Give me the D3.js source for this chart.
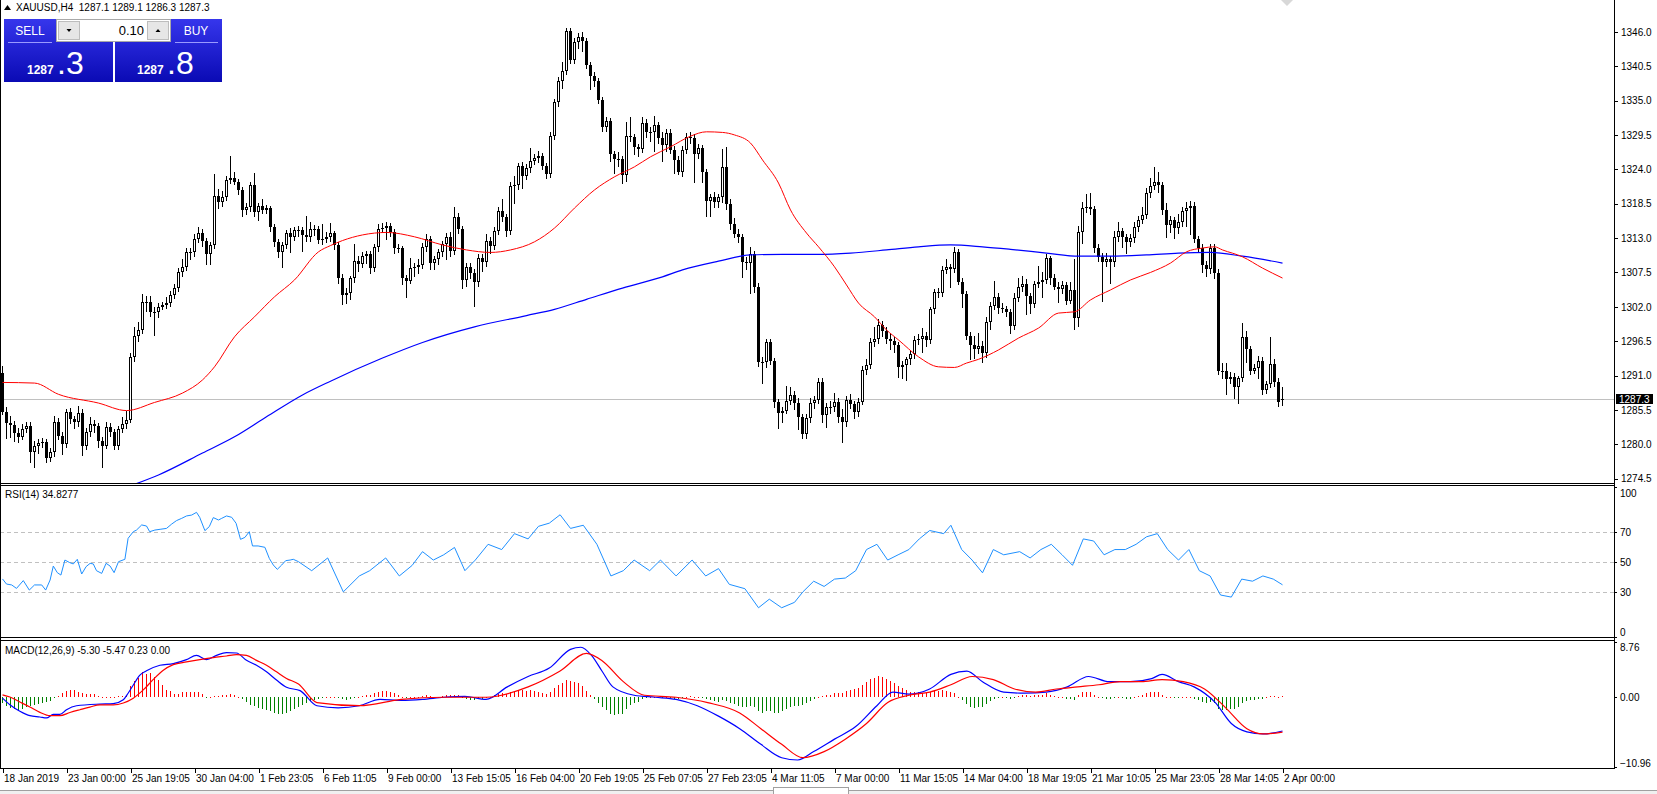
<!DOCTYPE html>
<html lang="en">
<head>
<meta charset="utf-8">
<title>XAUUSD,H4</title>
<script src="https://d3js.org/d3.v7.min.js"></script>
<style>
  body { margin:0; background:#fff; overflow:hidden }
  text { font-family:"Liberation Sans", Arial, sans-serif; font-size:10px }
  .axis path.domain { display:none }
  .axis line { stroke:#000; shape-rendering:crispEdges }
  .axis text { fill:#000 }
</style>
</head>
<body>
<script>

// ---- price bars (H4), bar 0 = 18 Jan 2019 ----
var opens = [
1291.4,1285.2,1283.4,1283.1,1281.8,1281.2,1282.5,1283.0,1278.8,1279.8,
1280.2,1280.4,1277.8,1278.8,1283.5,1281.4,1280.1,1285.1,1284.0,1283.5,
1285.0,1279.8,1281.9,1283.2,1283.0,1280.6,1279.8,1282.8,1281.9,1279.8,
1282.4,1283.3,1283.9,1293.9,1297.3,1298.3,1302.7,1302.8,1301.2,1301.2,
1302.0,1302.3,1302.6,1303.9,1305.0,1307.6,1308.4,1310.7,1310.7,1312.9,
1313.8,1312.6,1310.5,1311.9,1319.7,1318.8,1319.6,1322.3,1322.6,1322.0,
1320.7,1317.5,1317.9,1321.5,1317.2,1318.1,1317.5,1317.8,1314.7,1312.3,
1310.7,1311.9,1313.8,1313.2,1314.3,1314.3,1313.5,1313.1,1314.4,1314.4,
1312.7,1312.9,1313.2,1313.8,1311.9,1306.6,1303.9,1304.2,1306.6,1309.4,
1308.8,1310.2,1310.4,1308.2,1311.5,1314.4,1314.6,1314.9,1314.0,1311.4,
1311.4,1306.6,1306.2,1308.2,1308.3,1308.7,1311.5,1312.9,1309.0,1309.6,
1310.7,1312.0,1313.2,1310.9,1316.3,1314.4,1306.3,1308.3,1307.4,1305.9,
1309.8,1309.1,1312.6,1311.8,1314.1,1317.4,1316.3,1314.1,1321.4,1321.5,
1324.5,1323.0,1324.2,1325.4,1325.8,1326.2,1324.6,1323.2,1329.3,1334.7,
1338.1,1339.7,1346.1,1341.5,1344.3,1345.1,1344.6,1340.7,1338.9,1338.1,
1335.1,1330.7,1331.8,1326.4,1325.6,1325.6,1323.1,1329.3,1329.1,1327.5,
1327.2,1331.4,1330.0,1329.9,1331.1,1329.0,1327.9,1329.8,1327.1,1325.5,
1323.6,1327.1,1329.2,1329.0,1326.5,1327.4,1323.5,1319.0,1319.5,1318.8,
1319.5,1324.3,1318.5,1315.3,1313.7,1313.1,1309.2,1309.0,1310.5,1305.2,
1293.2,1293.1,1296.3,1293.4,1286.8,1285.0,1285.4,1287.0,1287.9,1286.6,
1284.4,1281.7,1284.2,1286.6,1287.1,1290.0,1284.7,1285.9,1285.9,1286.8,
1284.3,1283.5,1287.1,1286.5,1285.2,1286.8,1291.9,1292.7,1296.4,1296.8,
1299.1,1298.2,1296.8,1296.6,1295.9,1292.4,1292.7,1293.6,1294.4,1296.7,
1296.8,1297.3,1296.7,1301.6,1304.3,1304.2,1307.9,1308.3,1308.0,1310.7,
1306.0,1304.1,1297.3,1295.9,1295.2,1295.7,1294.6,1299.5,1302.1,1303.6,
1301.8,1301.6,1301.2,1298.9,1303.4,1305.2,1305.7,1303.7,1302.5,1305.7,
1305.9,1306.3,1309.8,1306.6,1305.2,1304.8,1305.5,1303.0,1304.7,1300.2,
1314.0,1317.8,1317.9,1317.6,1311.4,1310.0,1309.2,1309.6,1309.1,1313.2,
1314.1,1313.1,1312.3,1313.0,1314.8,1315.9,1316.7,1320.2,1321.3,1322.0,
1321.5,1317.5,1315.1,1315.9,1314.6,1315.6,1317.4,1317.8,1318.1,1312.9,
1311.4,1308.7,1308.0,1311.4,1307.4,1291.8,1291.8,1290.4,1290.8,1289.2,
1290.6,1297.1,1295.2,1291.8,1292.2,1293.4,1288.7,1289.7,1292.9,1289.9,
1287.1];

var highs = [
1292.6,1286.0,1284.6,1283.8,1282.6,1283.2,1283.6,1283.6,1280.6,1280.8,
1281.0,1280.9,1279.4,1284.6,1284.2,1282.0,1285.6,1285.8,1284.6,1286.2,
1285.6,1282.6,1284.3,1283.9,1283.4,1281.2,1283.6,1283.4,1282.4,1283.0,
1284.3,1285.4,1294.6,1298.8,1299.6,1304.0,1303.7,1303.8,1302.0,1302.6,
1302.8,1303.6,1304.6,1305.6,1308.2,1309.6,1311.4,1311.4,1313.6,1314.8,
1314.4,1313.0,1312.4,1323.3,1320.8,1320.6,1322.9,1326.1,1323.6,1322.5,
1321.2,1318.6,1322.0,1323.4,1318.6,1319.2,1318.3,1318.2,1315.2,1312.8,
1312.4,1314.3,1314.6,1314.8,1315.0,1314.8,1316.6,1315.6,1315.1,1315.0,
1315.2,1314.0,1315.4,1314.2,1312.4,1307.2,1305.0,1307.0,1312.0,1310.1,
1310.8,1311.0,1310.9,1312.0,1315.3,1315.4,1315.6,1315.4,1314.5,1312.0,
1311.8,1307.1,1309.8,1309.0,1309.6,1312.2,1313.6,1313.4,1310.2,1311.3,
1312.6,1313.8,1314.0,1318.0,1317.0,1315.0,1309.0,1309.0,1308.0,1310.4,
1310.4,1313.6,1313.2,1314.8,1318.0,1319.2,1316.8,1322.0,1323.0,1325.0,
1325.2,1324.8,1327.4,1326.4,1327.0,1326.6,1325.0,1330.0,1335.2,1338.8,
1341.2,1346.6,1346.6,1345.0,1345.8,1346.0,1345.0,1341.2,1339.6,1338.6,
1335.6,1332.4,1332.2,1327.0,1326.8,1326.2,1331.6,1332.4,1329.6,1328.0,
1332.4,1332.0,1330.8,1332.6,1331.6,1330.0,1330.5,1330.4,1327.8,1326.2,
1327.8,1329.8,1330.0,1329.6,1328.0,1327.9,1324.0,1320.0,1320.4,1320.0,
1327.2,1327.6,1319.2,1316.2,1314.4,1313.6,1310.0,1311.6,1311.0,1305.8,
1294.0,1296.8,1296.8,1293.8,1287.3,1286.0,1289.4,1289.2,1288.6,1287.4,
1284.9,1284.8,1287.4,1287.8,1290.6,1290.6,1286.6,1286.9,1288.2,1287.4,
1285.6,1287.8,1288.0,1287.0,1287.4,1292.6,1293.6,1297.0,1298.8,1300.0,
1299.8,1298.8,1297.8,1297.2,1296.4,1293.4,1294.0,1295.0,1297.4,1297.6,
1298.6,1298.0,1302.0,1304.8,1305.0,1308.6,1309.6,1308.8,1311.6,1311.2,
1306.6,1304.6,1297.9,1297.4,1297.8,1296.6,1300.4,1302.8,1306.2,1304.2,
1302.6,1302.2,1301.6,1304.2,1306.6,1307.0,1306.4,1304.2,1306.2,1308.6,
1307.6,1310.4,1310.2,1307.2,1306.0,1306.2,1306.0,1306.0,1309.6,1315.0,
1318.8,1320.0,1320.2,1318.2,1312.0,1310.6,1310.6,1310.2,1314.2,1315.6,
1314.6,1313.6,1313.6,1315.6,1316.6,1318.0,1321.0,1322.6,1324.4,1323.6,
1322.0,1318.6,1316.6,1316.4,1316.8,1318.0,1318.8,1318.9,1318.8,1313.4,
1312.0,1309.4,1312.0,1312.0,1308.0,1293.0,1293.0,1291.6,1291.4,1291.0,
1299.4,1298.2,1295.8,1292.8,1294.2,1294.0,1290.2,1297.2,1293.6,1290.6,
1289.1];

var lows = [
1284.8,1281.0,1281.2,1280.5,1280.3,1280.8,1281.9,1277.2,1276.4,1278.6,
1279.6,1277.2,1277.3,1278.2,1280.9,1278.5,1279.6,1283.4,1282.6,1283.0,
1278.3,1279.2,1281.4,1282.0,1279.6,1276.4,1279.4,1281.3,1279.3,1279.3,
1281.9,1282.6,1283.5,1293.4,1296.6,1297.8,1301.4,1300.6,1297.5,1300.4,
1301.6,1301.8,1302.1,1303.4,1304.6,1307.0,1307.9,1309.6,1310.2,1312.4,
1311.8,1308.8,1308.9,1311.4,1317.8,1318.2,1319.1,1321.8,1321.6,1320.1,
1316.5,1316.9,1317.4,1316.6,1315.9,1317.0,1317.0,1314.2,1311.8,1309.9,
1308.3,1311.4,1310.7,1312.7,1313.4,1311.0,1312.6,1312.6,1313.5,1312.2,
1312.1,1312.3,1312.6,1311.2,1305.8,1302.4,1302.6,1303.2,1306.0,1307.8,
1308.3,1309.0,1307.4,1307.8,1311.0,1313.9,1312.8,1313.4,1310.6,1310.7,
1305.7,1303.5,1305.8,1306.9,1307.4,1308.2,1310.9,1308.1,1308.1,1308.9,
1310.2,1309.7,1310.2,1310.4,1313.8,1305.0,1305.4,1306.6,1302.1,1305.4,
1307.8,1308.6,1310.6,1311.3,1313.6,1315.8,1313.4,1313.6,1318.6,1320.8,
1321.0,1322.4,1323.6,1324.8,1325.2,1324.0,1322.6,1322.8,1328.8,1334.2,
1337.0,1339.2,1341.0,1341.0,1343.4,1343.0,1340.2,1336.8,1337.4,1334.6,
1330.2,1330.2,1325.4,1323.4,1324.6,1321.8,1322.2,1328.6,1326.4,1326.2,
1326.8,1329.2,1328.6,1327.0,1328.2,1325.4,1327.0,1326.6,1323.4,1323.2,
1323.0,1326.6,1328.2,1322.0,1325.8,1322.0,1316.6,1316.6,1317.9,1318.0,
1318.8,1317.6,1314.4,1313.2,1312.4,1306.8,1308.0,1304.2,1304.4,1292.6,
1289.8,1292.4,1292.8,1286.0,1282.6,1283.6,1285.0,1286.4,1285.6,1282.4,
1281.0,1281.0,1283.6,1285.8,1286.6,1283.6,1282.8,1285.0,1285.4,1283.6,
1280.4,1282.9,1285.8,1284.2,1284.6,1286.4,1291.2,1292.2,1295.8,1296.2,
1297.4,1296.2,1295.2,1294.8,1290.8,1290.6,1290.3,1292.8,1293.8,1296.0,
1294.8,1295.8,1296.2,1301.0,1303.6,1303.8,1307.4,1305.2,1307.6,1305.6,
1302.0,1296.8,1293.6,1293.8,1294.6,1293.2,1294.0,1298.4,1301.6,1301.0,
1301.2,1300.6,1297.8,1298.4,1302.9,1304.6,1300.8,1301.0,1302.0,1305.2,
1303.6,1305.8,1305.6,1304.8,1302.8,1304.2,1302.4,1302.6,1298.4,1299.0,
1312.2,1317.2,1316.8,1310.8,1309.4,1303.0,1308.6,1305.8,1308.6,1312.6,
1311.6,1310.6,1311.8,1312.4,1314.2,1315.4,1316.2,1319.6,1320.8,1320.4,
1316.8,1313.2,1314.0,1313.0,1313.8,1315.0,1315.0,1313.6,1312.4,1310.8,
1307.6,1307.0,1307.4,1306.6,1291.2,1290.6,1288.0,1289.8,1287.4,1286.6,
1290.2,1293.2,1291.2,1291.4,1290.6,1288.0,1288.2,1289.2,1289.4,1286.2,
1286.3];

var closes = [
1285.2,1283.4,1283.1,1281.8,1281.2,1282.5,1283.0,1278.8,1279.8,1280.2,
1280.4,1277.8,1278.8,1283.5,1281.4,1280.1,1285.1,1284.0,1283.5,1285.0,
1279.8,1281.9,1283.2,1283.0,1280.6,1279.8,1282.8,1281.9,1279.8,1282.4,
1283.3,1283.9,1293.9,1297.3,1298.3,1302.7,1302.8,1301.2,1301.2,1302.0,
1302.3,1302.6,1303.9,1305.0,1307.6,1308.4,1310.7,1310.7,1312.9,1313.8,
1312.6,1310.5,1311.9,1319.7,1318.8,1319.6,1322.3,1322.6,1322.0,1320.7,
1317.5,1317.9,1321.5,1317.2,1318.1,1317.5,1317.8,1314.7,1312.3,1310.7,
1311.9,1313.8,1313.2,1314.3,1314.3,1313.5,1313.1,1314.4,1314.4,1312.7,
1312.9,1313.2,1313.8,1311.9,1306.6,1303.9,1304.2,1306.6,1309.4,1308.8,
1310.2,1310.4,1308.2,1311.5,1314.4,1314.6,1314.9,1314.0,1311.4,1311.4,
1306.6,1306.2,1308.2,1308.3,1308.7,1311.5,1312.9,1309.0,1309.6,1310.7,
1312.0,1313.2,1310.9,1316.3,1314.4,1306.3,1308.3,1307.4,1305.9,1309.8,
1309.1,1312.6,1311.8,1314.1,1317.4,1316.3,1314.1,1321.4,1321.5,1324.5,
1323.0,1324.2,1325.4,1325.8,1326.2,1324.6,1323.2,1329.3,1334.7,1338.1,
1339.7,1346.1,1341.5,1344.3,1345.1,1344.6,1340.7,1338.9,1338.1,1335.1,
1330.7,1331.8,1326.4,1325.6,1325.6,1323.1,1329.3,1329.1,1327.5,1327.2,
1331.4,1330.0,1329.9,1331.1,1329.0,1327.9,1329.8,1327.1,1325.5,1323.6,
1327.1,1329.2,1329.0,1326.5,1327.4,1323.5,1319.0,1319.5,1318.8,1319.5,
1324.3,1318.5,1315.3,1313.7,1313.1,1309.2,1309.0,1310.5,1305.2,1293.2,
1293.1,1296.3,1293.4,1286.8,1285.0,1285.4,1287.0,1287.9,1286.6,1284.4,
1281.7,1284.2,1286.6,1287.1,1290.0,1284.7,1285.9,1285.9,1286.8,1284.3,
1283.5,1287.1,1286.5,1285.2,1286.8,1291.9,1292.7,1296.4,1296.8,1299.1,
1298.2,1296.8,1296.6,1295.9,1292.4,1292.7,1293.6,1294.4,1296.7,1296.8,
1297.3,1296.7,1301.6,1304.3,1304.2,1307.9,1308.3,1308.0,1310.7,1306.0,
1304.1,1297.3,1295.9,1295.2,1295.7,1294.6,1299.5,1302.1,1303.6,1301.8,
1301.6,1301.2,1298.9,1303.4,1305.2,1305.7,1303.7,1302.5,1305.7,1305.9,
1306.3,1309.8,1306.6,1305.2,1304.8,1305.5,1303.0,1304.7,1300.2,1314.0,
1317.8,1317.9,1317.6,1311.4,1310.0,1309.2,1309.6,1309.1,1313.2,1314.1,
1313.1,1312.3,1313.0,1314.8,1315.9,1316.7,1320.2,1321.3,1322.0,1321.5,
1317.5,1315.1,1315.9,1314.6,1315.6,1317.4,1317.8,1318.1,1312.9,1311.4,
1308.7,1308.0,1311.4,1307.4,1291.8,1291.8,1290.4,1290.8,1289.2,1290.6,
1297.1,1295.2,1291.8,1292.2,1293.4,1288.7,1289.7,1292.9,1289.9,1286.8,
1287.3];

// moving averages at bar positions
var redMaBar = [0,8,14,24,31,38,45,50,53,58,63,68,73,79,82,85,90,96,103,110,116,122,127,133,138,143,148,153,158,162,167,172,176,180,183,187,190,194,197,201,204,208,211,214,218,221,224,229,234,238,241,244,249,254,259,264,268,272,277,282,287,292,296,300,303,305,310,315,320];
var redMaVal = [1289.9,1289.8,1288.0,1286.6,1285.4,1286.7,1288.2,1290.3,1292.4,1297.2,1300.4,1303.6,1306.3,1310.8,1311.8,1312.6,1313.5,1313.9,1313.2,1311.9,1311.1,1310.7,1311.1,1312.4,1314.6,1317.8,1320.7,1322.8,1324.4,1326.0,1327.6,1329.3,1330.0,1329.9,1329.5,1328.2,1325.5,1321.8,1317.5,1313.8,1311.6,1308.4,1305.5,1302.6,1300.4,1298.3,1296.7,1294.0,1292.4,1292.3,1293.0,1293.6,1295.1,1297.0,1298.6,1301.0,1301.2,1303.1,1304.7,1306.3,1307.5,1309.0,1310.8,1311.4,1311.6,1311.1,1310.0,1308.2,1306.6];
var blueMaBar = [33,39,50,58,66,75,82,95,105,118,131,138,146,155,165,170,179,187,195,204,212,221,229,237,245,252,261,269,277,286,294,302,310,320];
var blueMaVal = [1273.6,1275.1,1278.6,1281.2,1284.4,1287.9,1290.1,1293.8,1296.3,1298.8,1300.6,1301.6,1303.2,1305.0,1306.8,1307.9,1309.3,1310.3,1310.4,1310.4,1310.6,1311.1,1311.6,1311.9,1311.6,1311.2,1310.6,1310.1,1310.1,1310.3,1310.6,1310.7,1310.1,1309.0];

// RSI(14)
var rsiBar = [0,1,2.3,3.5,5.2,6.7,8,9.8,10.8,11.9,12.7,13.7,14.6,15.6,16.8,17.7,18.7,19.8,20.9,21.9,22.7,23.5,24.8,25.9,26.9,27.9,29,30.6,31.4,32.7,33.5,34.8,36,36.8,38.1,39.4,41,42.3,43.5,44.8,46,47.3,48.5,49.3,50.6,51.7,52.7,54,54.8,56,57.3,58.4,59.5,60.6,61.7,62.5,63.9,65.6,66.7,67.7,68.7,69.8,70.8,71.9,72.7,74,
  77.3,81.3,85.2,89.2,91.8,95.8,99.2,102.4,105,107.7,110.3,113,115.6,118.2,121.4,124.8,128,131.4,134,136.7,139.4,142,145.2,148.6,152.1,155.2,157.9,161.8,164.5,168.4,172.4,175.8,179,181.7,185.6,189,191.7,194.8,198,200.1,202.8,205.4,208,210.7,213.3,216,218.6,221.3,223.9,226.6,229.2,231.8,235.3,237.1,239.8,242.4,245,247.7,250.3,254.3,256.9,259.6,262.2,264.9,267.5,270.2,272.8,275.4,278.1,280.7,283.4,286,288.7,291.3,294,296.6,299.2,301.9,304.5,307.2,309.8,312.5,315.1,317.7,320];
var rsiVal = [38.7,35.3,34.7,32.4,37.6,31.3,34.7,34.7,31.3,38,47.3,42.9,41.3,51.3,49.6,48.7,51.8,42,46.9,49.1,48.7,44.2,42.4,49.1,47.3,42.9,50.2,51.8,65.8,70.2,71.3,74.7,74,70.2,71.3,71.8,72.4,75.3,77.6,79.1,80.7,81.3,83.1,79.8,70.9,73.6,79.6,78,79.1,80.7,79.8,75.8,65.1,66.4,70.2,60.7,60.7,59.8,52.4,48,45.1,48,50.9,51.3,51.8,50.2,
  44.2,52.7,30.1,40.7,44.2,52.7,40.7,47.7,56.9,51.3,54.8,59.7,44.2,51.3,61.8,58.3,68.9,65.4,73.8,75.9,81.5,72.4,74.5,61.8,40.7,44.2,51.3,44.2,51.3,40.7,51.3,40.7,45.6,35.1,32.2,19.5,25.2,19.5,23.1,30.1,37.2,33.7,38.6,39.3,44.2,58.3,61.8,51.3,54.8,58.3,65.4,71,68.9,74.5,58.3,51.3,42.8,58.3,54.8,56.9,52.7,58.3,61.8,54.8,47.8,65.4,64,54.8,58.3,58.3,61.8,66.8,68.9,58.3,51.3,58.3,44.2,40.7,28,26.6,38.6,37.2,40.7,38.6,34.8];
var rsiLevels = [70, 50, 30];
var rsiTicks = [100, 70, 50, 30, 0];

// MACD(12,26,9)
var macdBar = [0,1.85,4.35,6.85,9.35,11,12.7,14.35,16,18.5,24.35,27.7,30.2,31.4,32.7,34.35,36,39.35,42.7,46,48.5,51,53.5,56,58.5,61,63.5,66,68.5,71,74.4,
  78.6,83.9,89.2,94.4,99.7,105,110.3,115.6,120.9,126.2,131.4,136.7,142,144.6,147.3,149.9,152.6,157.9,163.2,168.4,173.7,179,184.3,189.6,194.8,198.8,202.8,208,213.3,218.6,222.6,226.6,231.8,237.1,241.1,245,250.3,255.6,260.9,266.2,271.5,276.7,282,287.3,289.9,294,297.9,303.2,307.2,311.1,315.1,320];
var macdVal = [-0.14,-1.18,-2.2,-2.9,-3.1,-3.25,-2.7,-2.7,-1.96,-1.34,-1.07,-1.0,-0.4,0.63,1.93,3.48,4.15,5.03,5.29,5.91,6.58,5.91,6.58,7.0,6.95,5.8,5.03,4.0,2.7,1.56,1.04,
  -1.33,-1.66,-1.33,-0.34,-0.5,-0.34,0,0.15,-0.34,1.63,3.26,4.58,7.53,7.86,6.55,4.09,1.63,0.31,0,-0.34,-1.33,-2.97,-4.94,-7.4,-9.5,-9.86,-8.54,-6.58,-4.61,-1.33,0.81,0.48,1.3,3.6,4.09,2.45,0.81,0.64,0.81,1.63,3.26,2.45,2.45,2.93,3.6,2.45,1.63,-0.84,-4.12,-5.43,-5.76,-5.3];
var signalBar = [0,1.85,4.35,6.85,9.35,11.85,14.35,16.85,19.35,21.85,24.35,27.7,30.2,32.7,35.2,37.7,40.2,42.7,46,49.35,52.7,56,58.5,61,63.5,66,68.5,71,74,
  78.6,89.2,99.7,110.3,120.9,131.4,139.3,146,149.9,155.2,160.5,168.4,176.3,184.3,189.6,194.8,200.1,205.4,210.7,216,221.3,226.6,231.8,237.1,242.4,247.7,253,258.3,263.5,268.8,274.1,279.4,284.7,289.9,295.2,300.5,305.8,311.1,315.1,320];
var signalVal = [0.37,0.03,-0.75,-1.54,-2.37,-2.9,-2.9,-2.4,-1.96,-1.54,-1.2,-1.2,-0.9,-0.14,1.15,2.8,4.25,5.13,5.55,5.91,6.23,6.48,6.69,6.58,5.8,5.03,4.0,2.96,2.08,
  -0.84,-1.33,-0.34,0,0,1.63,4.09,6.88,5.73,2.45,0.31,0,-0.84,-2.47,-4.94,-7.4,-9.5,-8.54,-6.58,-4.12,-0.84,0.31,0.81,1.96,3.26,2.78,1.3,0.81,1.3,1.63,1.96,2.45,2.45,2.78,2.45,1.3,-1.66,-4.94,-5.76,-5.47];
var histVal = [
-0.98,-1.40,-1.66,-1.92,-2.07,-1.81,-1.50,-1.40,-1.19,-1.04,
-0.88,-0.78,-0.62,-0.10,0.16,0.67,0.93,1.09,1.19,0.78,
0.67,0.57,0.57,0.47,0.26,0.05,0.05,0.05,0.05,0.16,
0.26,0.41,1.71,2.48,3.00,4.04,3.67,3.78,3.26,2.74,
1.97,1.19,0.93,0.57,0.57,0.78,0.78,0.78,0.78,0.78,
0.57,-0.05,0.02,0.26,0.26,0.41,0.41,0.52,0.36,0.02,
-0.26,-0.78,-1.14,-1.40,-1.66,-1.92,-2.02,-2.17,-2.43,-2.69,
-2.69,-2.43,-2.17,-1.92,-1.50,
-1.2,-0.9,-0.6,-0.4,-0.2,-0.1,0.05,0.1,0.05,-0.1,
-0.3,-0.4,-0.3,-0.1,0.1,0.2,0.3,0.4,0.6,0.8,
1.0,1.0,0.8,0.6,0.4,0.1,-0.1,0.0,0.1,0.1,
0.2,0.3,0.2,0.1,0.1,0.2,0.3,0.3,0.4,0.3,
-0.1,-0.3,-0.4,-0.5,-0.3,-0.2,0.0,0.1,0.3,0.5,
0.6,0.5,0.8,1.0,1.2,1.1,1.0,1.1,1.0,0.9,
0.7,0.5,0.9,1.5,2.0,2.3,2.7,2.5,2.4,2.2,
1.8,1.0,0.3,-0.3,-0.9,-1.6,-2.0,-2.6,-2.8,-2.7,
-2.6,-1.8,-1.2,-0.9,-0.7,-0.3,-0.1,0.0,0.1,0.0,
-0.1,0.0,-0.1,-0.2,-0.3,-0.1,0.1,0.2,0.1,0.1,
-0.1,-0.3,-0.5,-0.6,-0.7,-0.4,-0.6,-0.9,-1.1,-1.3,
-1.5,-1.6,-1.4,-1.6,-2.2,-2.4,-2.2,-2.2,-2.4,-2.4,
-2.2,-1.9,-1.6,-1.4,-1.3,-1.2,-0.9,-0.6,-0.3,0.1,
0.2,0.3,0.4,0.6,0.6,0.7,1.0,1.2,1.3,1.5,
2.0,2.4,2.8,3.1,3.3,3.2,2.9,2.6,2.3,1.8,
1.4,1.1,0.9,0.9,0.8,0.7,0.6,0.8,1.0,1.0,
1.1,1.0,0.8,0.7,0.1,-0.4,-1.1,-1.5,-1.7,-1.6,
-1.6,-1.1,-0.6,-0.2,-0.1,0.0,-0.1,-0.3,-0.1,0.2,
0.4,0.3,0.2,0.3,0.4,0.4,0.6,0.4,0.2,0.0,
0.0,-0.2,-0.2,-0.5,0.3,0.8,0.9,0.9,0.4,0.1,
-0.1,-0.2,-0.3,-0.1,0.0,-0.1,-0.2,-0.2,0.0,0.2,
0.3,0.6,0.8,0.9,0.8,0.4,0.1,0.0,-0.1,-0.1,
0.0,0.1,0.1,-0.3,-0.5,-0.8,-0.9,-0.7,-0.9,-1.8,
-2.0,-2.0,-1.9,-1.8,-1.6,-0.9,-0.6,-0.5,-0.4,-0.2,
-0.2,0.0,0.2,0.2,0.1,0.23];
var macdTicks = [8.76, 0, -10.96];

// axes
var priceTicks = [1346.0,1340.5,1335.0,1329.5,1324.0,1318.5,1313.0,1307.5,1302.0,1296.5,1291.0,1285.5,1280.0,1274.5];
var lastPrice = 1287.3;
var timeTickBars = [0,16,32,48,64,80,96,112,128,144,160,176,192,208,224,240,256,272,288,304,320];
var timeLabels = ["18 Jan 2019","23 Jan 00:00","25 Jan 19:05","30 Jan 04:00","1 Feb 23:05","6 Feb 11:05","9 Feb 00:00","13 Feb 15:05","16 Feb 04:00","20 Feb 19:05","25 Feb 07:05","27 Feb 23:05","4 Mar 11:05","7 Mar 00:00","11 Mar 15:05","14 Mar 04:00","18 Mar 19:05","21 Mar 10:05","25 Mar 23:05","28 Mar 14:05","2 Apr 00:00"];


var w = 1657, h = 794, axisX = 1614;
var svg = d3.select("body").append("svg").attr("width", w).attr("height", h);
var defs = svg.append("defs");

function clip(id, y0, y1) {
    defs.append("clipPath").attr("id", id).append("rect")
        .attr("x", 1).attr("y", y0).attr("width", axisX - 1).attr("height", y1 - y0);
}
clip("cMain", 0, 483);
clip("cRsi", 486, 637);
clip("cMacd", 641, 768);

var x = d3.scaleLinear().domain([0, 320]).range([2.5, 1282.5]);
var yP = d3.scaleLinear().domain([1274.5, 1346.0]).range([478.7, 31.8]);
var yR = d3.scaleLinear().domain([0, 100]).range([637, 487]);
var yM = d3.scaleLinear().domain([-10.96, 8.76]).range([767, 641.5]);

// frame
var frame = svg.append("g").attr("stroke", "#000").attr("shape-rendering", "crispEdges");
[483.5, 485.5, 637.5, 640.5, 768.5].forEach(function(yy) {
    frame.append("line").attr("x1", 0).attr("x2", axisX).attr("y1", yy).attr("y2", yy)
})
frame.append("line").attr("x1", 0.5).attr("x2", 0.5).attr("y1", 0).attr("y2", 769)
frame.append("line").attr("x1", axisX + 0.5).attr("x2", axisX + 0.5).attr("y1", 0).attr("y2", 769)

// bottom tab strip
svg.append("rect").attr("x", 0).attr("y", 790).attr("width", w).attr("height", 4).attr("fill", "#f0f0f0")
svg.append("line").attr("x1", 0).attr("x2", 773).attr("y1", 790.5).attr("y2", 790.5).attr("stroke", "#a0a0a0")
svg.append("line").attr("x1", 848).attr("x2", w).attr("y1", 790.5).attr("y2", 790.5).attr("stroke", "#a0a0a0")
svg.append("rect").attr("x", 773.5).attr("y", 787.5).attr("width", 75).attr("height", 8).attr("fill", "#fff").attr("stroke", "#a0a0a0")

// main panel
var main = svg.append("g").attr("clip-path", "url(#cMain)");
main.append("line").attr("x1", 0).attr("x2", axisX)
    .attr("y1", Math.round(yP(lastPrice)) + 0.5).attr("y2", Math.round(yP(lastPrice)) + 0.5)
    .attr("stroke", "#c0c0c0").attr("shape-rendering", "crispEdges")

var bars = closes.map(function(c, i) {
    return { i: i, o: opens[i], h: highs[i], l: lows[i], c: c }
});

var cg = main.append("g").attr("shape-rendering", "crispEdges");
cg.selectAll("line.wick").data(bars).join("line").attr("class", "wick")
    .attr("x1", function(d) { return x(d.i) }).attr("x2", function(d) { return x(d.i) })
    .attr("y1", function(d) { return Math.round(yP(d.h)) })
    .attr("y2", function(d) { return Math.round(yP(d.l)) + 1 })
    .attr("stroke", "#000")

cg.selectAll("rect.body").data(bars).join("rect").attr("class", "body")
    .each(function(d) {
        var top = Math.round(yP(Math.max(d.o, d.c)));
        var bot = Math.round(yP(Math.min(d.o, d.c)));
        var el = d3.select(this);
        if (bot - top < 2) {
            el.attr("x", x(d.i) - 1.5).attr("y", top).attr("width", 3).attr("height", Math.max(1, bot - top)).attr("fill", "#000")
        } else if (d.c >= d.o) {
            el.attr("x", x(d.i) - 1).attr("y", top + 0.5).attr("width", 2).attr("height", bot - top - 1)
              .attr("fill", "#fff").attr("stroke", "#000")
        } else {
            el.attr("x", x(d.i) - 1.5).attr("y", top).attr("width", 3).attr("height", bot - top).attr("fill", "#000")
        }
    })

var maLine = d3.line().x(function(d) { return x(d[0]) }).y(function(d) { return yP(d[1]) }).curve(d3.curveMonotoneX);
main.append("path").datum(d3.zip(blueMaBar, blueMaVal)).attr("d", maLine)
    .attr("fill", "none").attr("stroke", "#0000ff").attr("stroke-width", 1.2)
main.append("path").datum(d3.zip(redMaBar, redMaVal)).attr("d", maLine)
    .attr("fill", "none").attr("stroke", "#ff0000").attr("stroke-width", 1)

// price axis
var pAxis = svg.append("g").attr("class", "axis").attr("transform", "translate(" + axisX + ",0)")
    .call(d3.axisRight(yP).tickValues(priceTicks).tickSize(4).tickPadding(3).tickFormat(d3.format(".1f")))
var ly = Math.round(yP(lastPrice));
svg.append("rect").attr("x", axisX + 2).attr("y", ly - 5).attr("width", 37).attr("height", 10).attr("fill", "#000")
svg.append("text").attr("x", axisX + 5).attr("y", ly).attr("dy", "0.35em").attr("fill", "#fff").text(d3.format(".1f")(lastPrice))

// RSI panel
var rsi = svg.append("g").attr("clip-path", "url(#cRsi)");
rsi.selectAll("line.lvl").data(rsiLevels).join("line").attr("class", "lvl")
    .attr("x1", 0).attr("x2", axisX)
    .attr("y1", function(d) { return Math.round(yR(d)) + 0.5 }).attr("y2", function(d) { return Math.round(yR(d)) + 0.5 })
    .attr("stroke", "#c0c0c0").attr("stroke-dasharray", "4,3").attr("shape-rendering", "crispEdges")
rsi.append("path").datum(d3.zip(rsiBar, rsiVal))
    .attr("d", d3.line().x(function(d) { return x(d[0]) }).y(function(d) { return yR(d[1]) }))
    .attr("fill", "none").attr("stroke", "#1e90ff").attr("stroke-width", 1)
var rAxis = svg.append("g").attr("class", "axis").attr("transform", "translate(" + axisX + ",0)")
    .call(d3.axisRight(yR).tickValues(rsiTicks).tickSize(3).tickPadding(3))
rAxis.selectAll("text").attr("dy", function(d) { return d == 100 ? "0.9em" : d == 0 ? "-0.2em" : "0.32em" })
svg.append("text").attr("x", 5).attr("y", 498).text("RSI(14) 34.8277")

// MACD panel
var macd = svg.append("g").attr("clip-path", "url(#cMacd)");
var y0 = Math.round(yM(0));
macd.selectAll("line.hist").data(histVal).join("line").attr("class", "hist")
    .attr("x1", function(d, i) { return x(i) }).attr("x2", function(d, i) { return x(i) })
    .attr("y1", y0)
    .attr("y2", function(d) {
        var yy = Math.round(yM(d));
        if (Math.abs(yy - y0) < 1) yy = y0 + 1;
        return yy
    })
    .attr("stroke", function(d) { return d >= 0 ? "#ff0000" : "#008000" })
    .attr("shape-rendering", "crispEdges")
var mLine = d3.line().x(function(d) { return x(d[0]) }).y(function(d) { return yM(d[1]) }).curve(d3.curveMonotoneX);
macd.append("path").datum(d3.zip(macdBar, macdVal)).attr("d", mLine)
    .attr("fill", "none").attr("stroke", "#0000ff").attr("stroke-width", 1.2)
macd.append("path").datum(d3.zip(signalBar, signalVal)).attr("d", mLine)
    .attr("fill", "none").attr("stroke", "#ff0000").attr("stroke-width", 1.2)
var mAxis = svg.append("g").attr("class", "axis").attr("transform", "translate(" + axisX + ",0)")
    .call(d3.axisRight(yM).tickValues(macdTicks).tickSize(3).tickPadding(3).tickFormat(d3.format(".2f")))
mAxis.selectAll("text").attr("dy", function(d) { return d > 8 ? "0.9em" : d < -10 ? "-0.1em" : "0.32em" })
svg.append("text").attr("x", 5).attr("y", 654).text("MACD(12,26,9) -5.30 -5.47 0.23 0.00")

// time axis
var tAxis = svg.append("g").attr("class", "axis").attr("transform", "translate(0,769)")
    .call(d3.axisBottom(x).tickValues(timeTickBars).tickSize(4).tickPadding(2)
        .tickFormat(function(d, i) { return timeLabels[i] }))
tAxis.selectAll("text").attr("text-anchor", "start").attr("x", 1)

// header + trade panel
svg.append("path").attr("d", "M4,10 L7.5,5 L11,10 Z").attr("fill", "#000")
svg.append("text").attr("x", 16).attr("y", 11).attr("xml:space", "preserve")
    .text("XAUUSD,H4  1287.1 1289.1 1286.3 1287.3")
svg.append("path").attr("d", "M1281,0 L1293,0 L1287,6 Z").attr("fill", "#d8d8d8")

var grad = defs.append("linearGradient").attr("id", "btn").attr("x1", 0).attr("y1", 0).attr("x2", 0).attr("y2", 1);
grad.append("stop").attr("offset", 0).attr("stop-color", "#3636ec");
grad.append("stop").attr("offset", 1).attr("stop-color", "#0a0ab4");

var tp = svg.append("g");
tp.append("path").attr("d", "M4,19 H56 V42 H113 V82 H4 Z").attr("fill", "url(#btn)")
tp.append("path").attr("d", "M171,19 H222 V82 H115 V42 H171 Z").attr("fill", "url(#btn)")
tp.append("line").attr("x1", 8).attr("x2", 52).attr("y1", 42.5).attr("y2", 42.5).attr("stroke", "#9a9aff")
tp.append("line").attr("x1", 175).attr("x2", 218).attr("y1", 42.5).attr("y2", 42.5).attr("stroke", "#9a9aff")
tp.append("rect").attr("x", 56.5).attr("y", 19.5).attr("width", 114).attr("height", 22).attr("fill", "#fff").attr("stroke", "#a8a8a8")
tp.append("rect").attr("x", 58.5).attr("y", 21.5).attr("width", 21).attr("height", 18).attr("fill", "#e6e6e6").attr("stroke", "#bdbdbd")
tp.append("rect").attr("x", 147.5).attr("y", 21.5).attr("width", 21).attr("height", 18).attr("fill", "#e6e6e6").attr("stroke", "#bdbdbd")
tp.append("path").attr("d", "M66.5,29 L71.5,29 L69,32 Z").attr("fill", "#000")
tp.append("path").attr("d", "M155.5,32 L160.5,32 L158,29 Z").attr("fill", "#000")
tp.append("text").attr("x", 30).attr("y", 35).attr("text-anchor", "middle").attr("fill", "#fff").style("font-size", "12px").text("SELL")
tp.append("text").attr("x", 196).attr("y", 35).attr("text-anchor", "middle").attr("fill", "#fff").style("font-size", "12px").text("BUY")
tp.append("text").attr("x", 144).attr("y", 35).attr("text-anchor", "end").attr("fill", "#000").style("font-size", "13px").text("0.10")
tp.append("text").attr("x", 27).attr("y", 74).attr("fill", "#fff").style("font-size", "12px").style("font-weight", "bold").text("1287")
tp.append("text").attr("x", 57).attr("y", 74).attr("fill", "#fff").style("font-size", "32px").text(".3")
tp.append("text").attr("x", 137).attr("y", 74).attr("fill", "#fff").style("font-size", "12px").style("font-weight", "bold").text("1287")
tp.append("text").attr("x", 167).attr("y", 74).attr("fill", "#fff").style("font-size", "32px").text(".8")

</script>
</body>
</html>
